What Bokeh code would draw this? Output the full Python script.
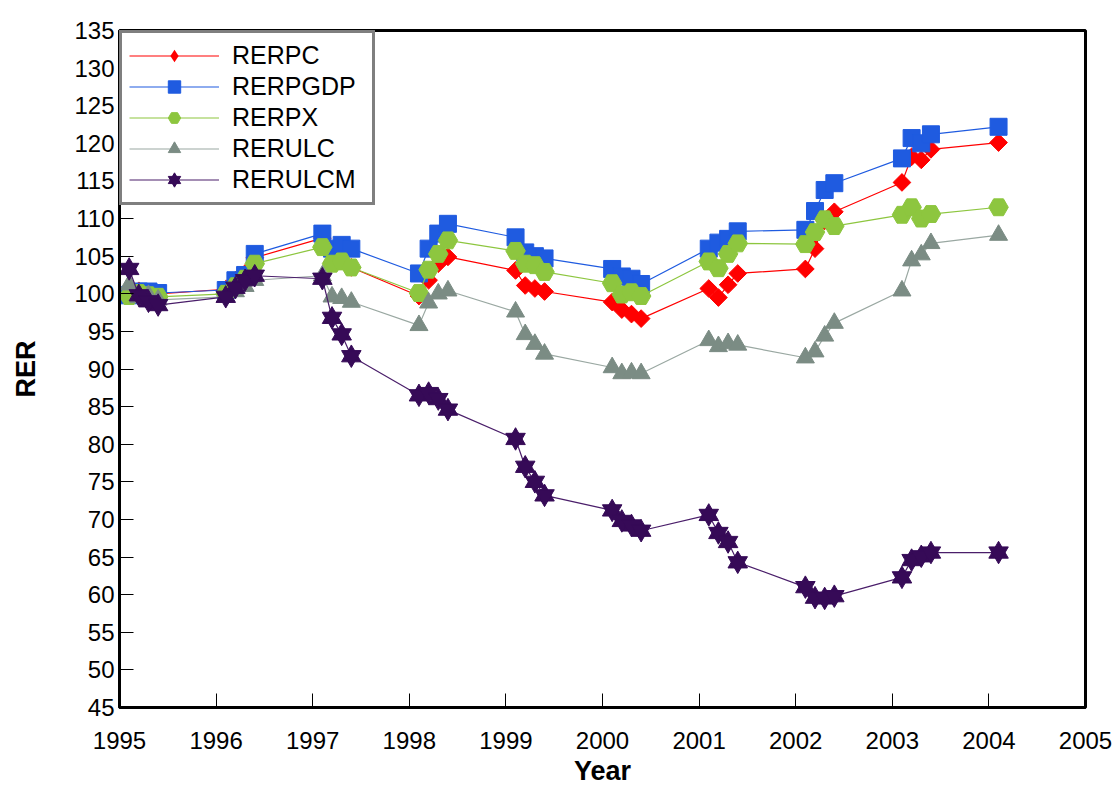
from bokeh.plotting import figure
from bokeh.models import Legend, LegendItem, SingleIntervalTicker, Range1d
from bokeh.embed import file_html
from bokeh.resources import INLINE

# Quarterly observations (as plotted: year + 0.1 .. 0.4)
period = [1995.1, 1995.2, 1995.3, 1995.4,
          1996.1, 1996.2, 1996.3, 1996.4,
          1997.1, 1997.2, 1997.3, 1997.4,
          1998.1, 1998.2, 1998.3, 1998.4,
          1999.1, 1999.2, 1999.3, 1999.4,
          2000.1, 2000.2, 2000.3, 2000.4,
          2001.1, 2001.2, 2001.3, 2001.4,
          2002.1, 2002.2, 2002.3, 2002.4,
          2003.1, 2003.2, 2003.3, 2003.4,
          2004.1]

rerpc = [100.1, 100.4, 100.2, 100.0,
         100.6, 101.8, 102.7, 104.8,
         107.4, 104.2, 104.4, 103.5,
         99.7, 101.8, 104.0, 104.9,
         103.1, 101.1, 100.7, 100.3,
         98.9, 97.9, 97.3, 96.7,
         100.7, 99.5, 101.2, 102.7,
         103.3, 106.0, 109.7, 110.9,
         114.8, 118.2, 117.8, 119.2,
         120.1]

rerpgdp = [99.8, 100.3, 100.3, 100.1,
           100.5, 101.8, 102.5, 105.3,
           108.0, 106.0, 106.5, 106.0,
           102.7, 106.0, 108.0, 109.3,
           107.5, 105.5, 105.0, 104.7,
           103.3, 102.3, 102.0, 101.3,
           106.0, 106.8, 107.3, 108.3,
           108.5, 111.0, 113.8, 114.7,
           118.0, 120.7, 120.0, 121.2,
           122.2]

rerpx = [99.7, 100.1, 99.8, 99.6,
         100.0, 101.0, 102.0, 104.0,
         106.2, 104.0, 104.3, 103.5,
         100.1, 103.2, 105.3, 107.1,
         105.7, 104.0, 103.8, 102.9,
         101.4, 99.9, 100.2, 99.7,
         104.3, 103.4, 105.3, 106.7,
         106.6, 108.2, 109.9, 109.0,
         110.5, 111.5, 110.0, 110.6,
         111.5]

rerulc = [101.2, 99.5, 99.8, 99.2,
          99.6, 100.3, 101.0, 101.8,
          102.4, 99.6, 99.4, 98.9,
          95.8, 98.8, 100.0, 100.4,
          97.6, 94.6, 93.3, 92.0,
          90.2, 89.4, 89.5, 89.4,
          93.8, 93.0, 93.4, 93.2,
          91.5, 92.3, 94.4, 96.1,
          100.4, 104.4, 105.2, 106.7,
          107.8]

rerulcm = [103.3, 99.8, 99.0, 98.5,
           99.6, 100.8, 101.8, 102.4,
           102.0, 96.8, 94.6, 91.7,
           86.5, 86.8, 86.0, 84.6,
           80.7, 77.0, 75.0, 73.2,
           71.2, 69.8, 69.2, 68.5,
           70.6, 68.2, 67.0, 64.3,
           61.0, 59.6, 59.5, 59.8,
           62.3, 64.6, 65.1, 65.6,
           65.6]

names = ["RERPC", "RERPGDP", "RERPX", "RERULC", "RERULCM"]
colors = ["#FF0000", "#1F5BE0", "#8DC63F", "#7B8C84", "#360A57"]
line_colors = ["#FF0000", "#1F5BE0", "#8DC63F", "#9AA8A2", "#4A1E6A"]

p = figure(frame_width=966, frame_height=677,
           x_range=Range1d(1995, 2005), y_range=Range1d(45, 135),
           output_backend="svg", toolbar_location=None,
           min_border_left=119, min_border_top=30,
           min_border_right=30, min_border_bottom=80)

p.xgrid.visible = False
p.ygrid.visible = False
p.outline_line_color = "black"
p.outline_line_width = 3
p.background_fill_color = "white"
p.border_fill_color = "white"

p.xaxis.ticker = SingleIntervalTicker(interval=1)
p.yaxis.ticker = SingleIntervalTicker(interval=5)
for ax in (p.xaxis[0], p.yaxis[0]):
    ax.axis_line_width = 3
    ax.axis_line_color = "black"
    ax.major_tick_in = 14
    ax.major_tick_out = 0
    ax.minor_tick_in = 0
    ax.minor_tick_out = 0
    ax.major_tick_line_color = "black"
    ax.major_tick_line_width = 1
    ax.major_label_text_font = "Liberation Sans"
    ax.major_label_text_font_size = "24px"
    ax.major_label_text_color = "black"
    ax.axis_label_text_font = "Liberation Sans"
    ax.axis_label_text_font_size = "27px"
    ax.axis_label_text_font_style = "bold"
    ax.axis_label_text_color = "black"

p.xaxis.axis_label = "Year"
p.yaxis.axis_label = "RER"
p.xaxis.major_label_standoff = 24
p.xaxis.axis_label_standoff = 4
p.yaxis.major_label_standoff = 5
p.yaxis.axis_label_standoff = 30

series = [rerpc, rerpgdp, rerpx, rerulc, rerulcm]
items = []
for i, (name, vals) in enumerate(zip(names, series)):
    lr = p.line(period, vals, line_color=line_colors[i], line_width=1.2)
    rs = [lr]
    if name == "RERPC":
        p.scatter(period, vals, marker="square", size=12.5, angle=0.7853981634,
                  fill_color=colors[i], line_color=colors[i])
        # legend key (legend swatches ignore marker rotation); zero size in plot
        rs.append(p.scatter(period, vals, marker="diamond", size=0,
                            fill_color=colors[i], line_color=colors[i], line_width=0))
    elif name == "RERPGDP":
        rs.append(p.scatter(period, vals, marker="square", size=17,
                            fill_color=colors[i], line_color=colors[i]))
    elif name == "RERPX":
        rs.append(p.scatter(period, vals, marker="hex", size=19.5,
                            fill_color=colors[i], line_color=colors[i]))
    elif name == "RERULC":
        rs.append(p.scatter(period, vals, marker="triangle", size=18,
                            fill_color=colors[i], line_color=colors[i]))
    else:
        rs.append(p.scatter(period, vals, marker="triangle", size=19.5,
                            fill_color=colors[i], line_color=colors[i]))
        rs.append(p.scatter(period, vals, marker="inverted_triangle", size=19.5,
                            fill_color=colors[i], line_color=colors[i]))
    items.append(LegendItem(label=name, renderers=rs))

legend = Legend(items=items, location="top_left",
                border_line_color="black", border_line_width=3,
                background_fill_color="white", background_fill_alpha=1.0,
                label_text_font="Liberation Sans", label_text_font_size="25px",
                label_text_color="black",
                glyph_width=90, glyph_height=31, spacing=0,
                padding=7, margin=0, label_standoff=13, label_width=133)
p.add_layout(legend)

open("out.html", "w").write(file_html(p, INLINE))
